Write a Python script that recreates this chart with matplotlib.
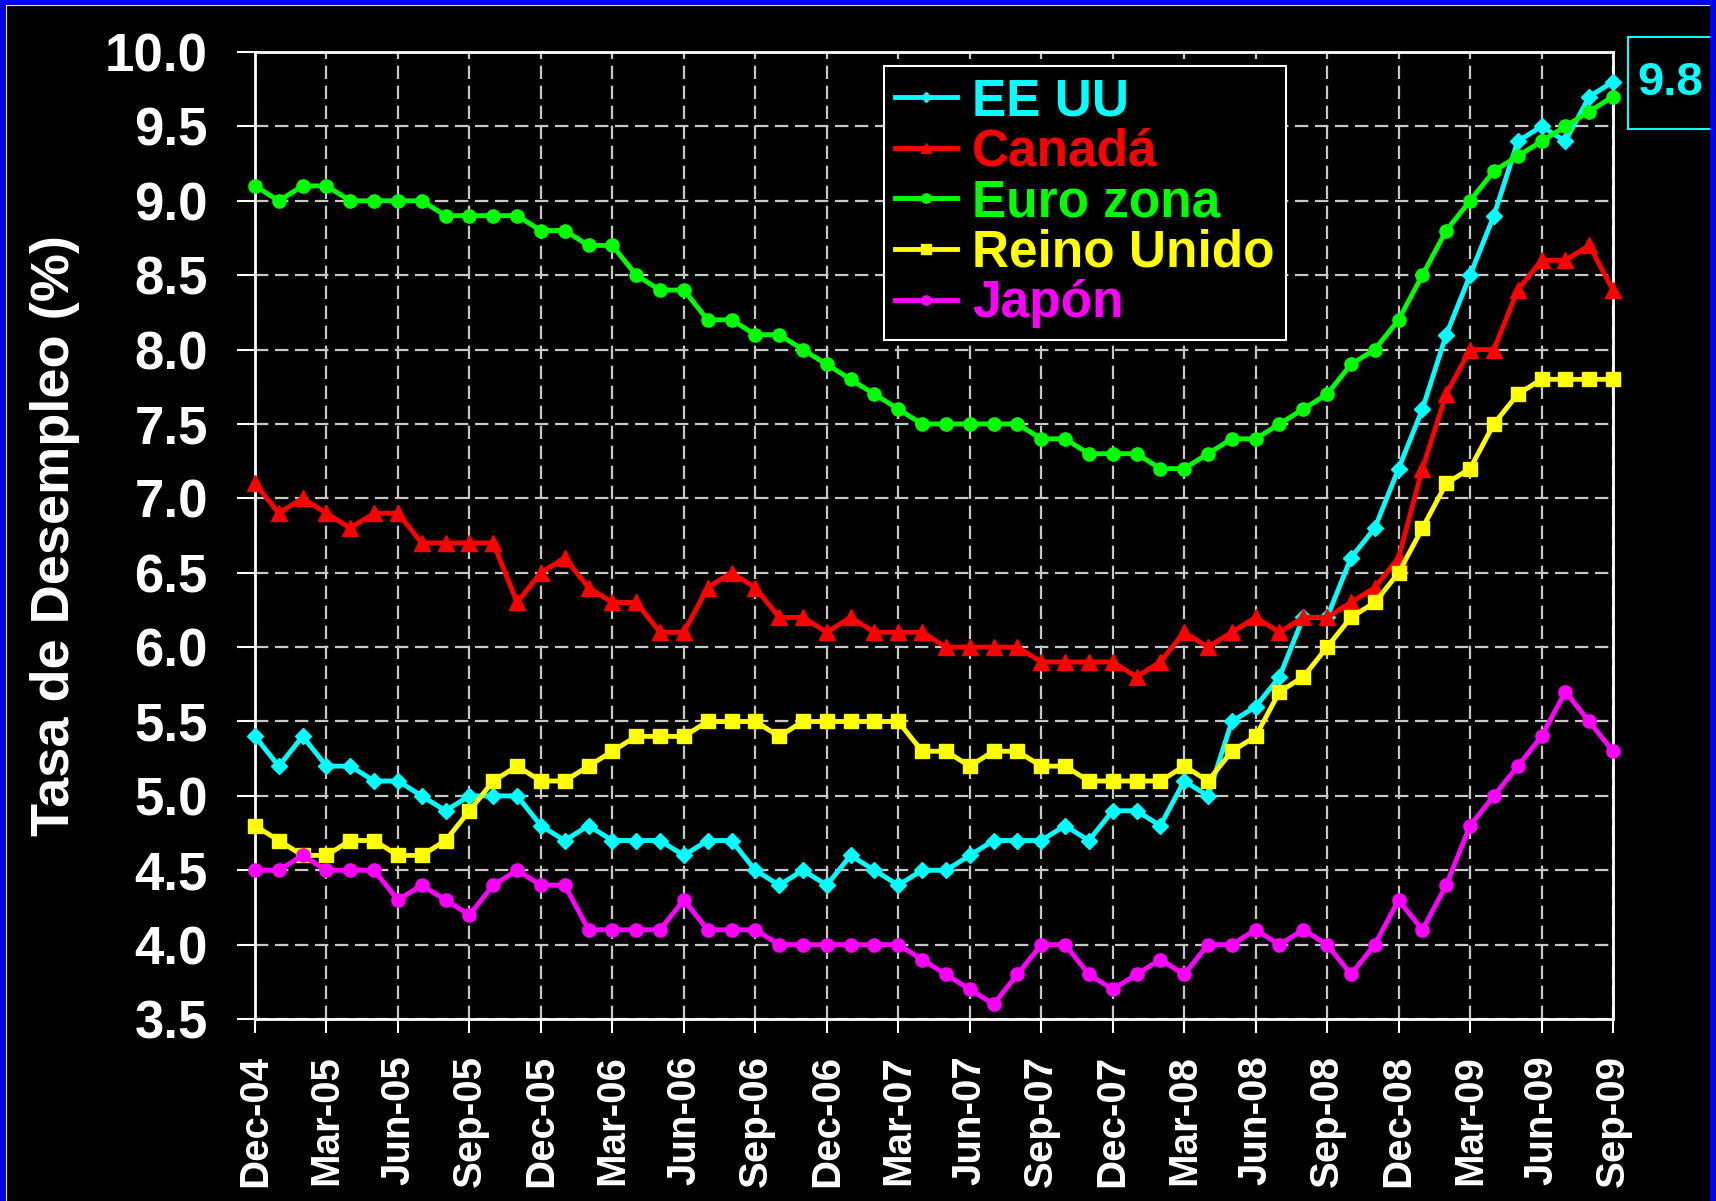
import matplotlib
matplotlib.use("Agg")
import matplotlib.pyplot as plt
from matplotlib.lines import Line2D
from matplotlib.patches import Rectangle

plt.rcParams["font.family"] = ["Liberation Sans", "DejaVu Sans"]
plt.rcParams["font.weight"] = "bold"

# Tasas de desempleo mensuales, Dic-04 a Sep-09 (58 meses)
eeuu = [5.4, 5.2, 5.4, 5.2, 5.2, 5.1, 5.1, 5.0, 4.9, 5.0, 5.0, 5.0,
        4.8, 4.7, 4.8, 4.7, 4.7, 4.7, 4.6, 4.7, 4.7, 4.5, 4.4, 4.5,
        4.4, 4.6, 4.5, 4.4, 4.5, 4.5, 4.6, 4.7, 4.7, 4.7, 4.8, 4.7,
        4.9, 4.9, 4.8, 5.1, 5.0, 5.5, 5.6, 5.8, 6.2, 6.2, 6.6, 6.8,
        7.2, 7.6, 8.1, 8.5, 8.9, 9.4, 9.5, 9.4, 9.7, 9.8]
canada = [7.1, 6.9, 7.0, 6.9, 6.8, 6.9, 6.9, 6.7, 6.7, 6.7, 6.7, 6.3,
          6.5, 6.6, 6.4, 6.3, 6.3, 6.1, 6.1, 6.4, 6.5, 6.4, 6.2, 6.2,
          6.1, 6.2, 6.1, 6.1, 6.1, 6.0, 6.0, 6.0, 6.0, 5.9, 5.9, 5.9,
          5.9, 5.8, 5.9, 6.1, 6.0, 6.1, 6.2, 6.1, 6.2, 6.2, 6.3, 6.4,
          6.6, 7.2, 7.7, 8.0, 8.0, 8.4, 8.6, 8.6, 8.7, 8.4]
eurozona = [9.1, 9.0, 9.1, 9.1, 9.0, 9.0, 9.0, 9.0, 8.9, 8.9, 8.9, 8.9,
            8.8, 8.8, 8.7, 8.7, 8.5, 8.4, 8.4, 8.2, 8.2, 8.1, 8.1, 8.0,
            7.9, 7.8, 7.7, 7.6, 7.5, 7.5, 7.5, 7.5, 7.5, 7.4, 7.4, 7.3,
            7.3, 7.3, 7.2, 7.2, 7.3, 7.4, 7.4, 7.5, 7.6, 7.7, 7.9, 8.0,
            8.2, 8.5, 8.8, 9.0, 9.2, 9.3, 9.4, 9.5, 9.6, 9.7]
reino_unido = [4.8, 4.7, 4.6, 4.6, 4.7, 4.7, 4.6, 4.6, 4.7, 4.9, 5.1, 5.2,
               5.1, 5.1, 5.2, 5.3, 5.4, 5.4, 5.4, 5.5, 5.5, 5.5, 5.4, 5.5,
               5.5, 5.5, 5.5, 5.5, 5.3, 5.3, 5.2, 5.3, 5.3, 5.2, 5.2, 5.1,
               5.1, 5.1, 5.1, 5.2, 5.1, 5.3, 5.4, 5.7, 5.8, 6.0, 6.2, 6.3,
               6.5, 6.8, 7.1, 7.2, 7.5, 7.7, 7.8, 7.8, 7.8, 7.8]
japon = [4.5, 4.5, 4.6, 4.5, 4.5, 4.5, 4.3, 4.4, 4.3, 4.2, 4.4, 4.5,
         4.4, 4.4, 4.1, 4.1, 4.1, 4.1, 4.3, 4.1, 4.1, 4.1, 4.0, 4.0,
         4.0, 4.0, 4.0, 4.0, 3.9, 3.8, 3.7, 3.6, 3.8, 4.0, 4.0, 3.8,
         3.7, 3.8, 3.9, 3.8, 4.0, 4.0, 4.1, 4.0, 4.1, 4.0, 3.8, 4.0,
         4.3, 4.1, 4.4, 4.8, 5.0, 5.2, 5.4, 5.7, 5.5, 5.3]

etiquetas_x = ["Dec-04", "Mar-05", "Jun-05", "Sep-05", "Dec-05", "Mar-06",
               "Jun-06", "Sep-06", "Dec-06", "Mar-07", "Jun-07", "Sep-07",
               "Dec-07", "Mar-08", "Jun-08", "Sep-08", "Dec-08", "Mar-09",
               "Jun-09", "Sep-09"]

series = [
    ("EE UU", eeuu, "#00FFFF", "D", 8),
    ("Canadá", canada, "#FF0000", "^", 11),
    ("Euro zona", eurozona, "#00FF00", "o", 9.5),
    ("Reino Unido", reino_unido, "#FFFF00", "s", 10.5),
    ("Japón", japon, "#FF00FF", "o", 9.5),
]

fig = plt.figure(figsize=(17.16, 12.01), dpi=100, facecolor="black")
ax = fig.add_axes([0.1486, 0.1515, 0.7914, 0.8052])
ax.set_facecolor("black")

meses = list(range(len(eeuu)))
lineas = []
for nombre, valores, color, marcador, tam in series:
    ln, = ax.plot(meses, valores, color=color, lw=3.5, marker=marcador,
                  markersize=tam, markeredgecolor=color, label=nombre,
                  clip_on=False, zorder=3)
    lineas.append(ln)

ax.set_xlim(0, len(eeuu) - 1)
ax.set_ylim(3.5, 10.0)
ax.set_xticks(range(0, len(eeuu), 3))
ax.set_xticklabels(etiquetas_x, rotation=90, fontsize=29, fontweight="bold",
                   color="white")
yt = [3.5 + 0.5 * k for k in range(14)]
ax.set_yticks(yt)
ax.set_yticklabels([f"{v:.1f}" for v in yt], fontsize=38, fontweight="bold",
                   color="white")
ax.tick_params(axis="y", direction="out", length=13, width=1.5,
               color="white", pad=21)
ax.tick_params(axis="x", direction="out", length=10, width=1.5,
               color="white", pad=16)

for sp in ax.spines.values():
    sp.set_color("white")
    sp.set_linewidth(2)

ax.grid(True, color="#C8C8C8", lw=1.6, linestyle=(0, (6, 3)), zorder=1)
ax.set_axisbelow(True)

ax.set_ylabel("Tasa de Desempleo (%)", fontsize=39, fontweight="bold",
              color="white")
ax.yaxis.set_label_coords(-0.129, 0.5)

leg = ax.legend(loc="upper left", bbox_to_anchor=(0.463, 0.9855),
                fontsize=37, frameon=True, fancybox=False,
                facecolor="black", edgecolor="white", framealpha=1,
                handlelength=1.2, handletextpad=0.3, labelspacing=0.03,
                borderpad=0.22, borderaxespad=0, markerscale=0.7)
leg.get_frame().set_linewidth(1.5)
for txt, ln in zip(leg.get_texts(), lineas):
    txt.set_color(ln.get_color())
    txt.set_fontweight("bold")

# Caja con el último valor de EE UU
fig.patches.append(Rectangle((1628 / 1716, 1 - 129 / 1201), 85 / 1716,
                             92 / 1201, transform=fig.transFigure,
                             facecolor="black", edgecolor="#00FFFF", lw=1.5))
fig.text(1670.5 / 1716, 1 - 83 / 1201, f"{eeuu[-1]:.1f}", color="#00FFFF",
         fontsize=34, fontweight="bold", ha="center", va="center")

# Marco azul de la diapositiva
for xs, ys in [((0.0015, 0.0015), (0, 1)), ((0, 1), (0.998, 0.998)),
               ((0.9985, 0.9985), (0, 1))]:
    fig.add_artist(Line2D(xs, ys, transform=fig.transFigure, color="blue",
                          lw=4))
fig.add_artist(Line2D((0.0037, 0.0037), (0, 0.9955), transform=fig.transFigure,
                      color="yellow", lw=0.8))
fig.add_artist(Line2D((0.0037, 0.996), (0.9955, 0.9955),
                      transform=fig.transFigure, color="yellow", lw=0.8))

fig.savefig("out.png", dpi=100, facecolor="black")
